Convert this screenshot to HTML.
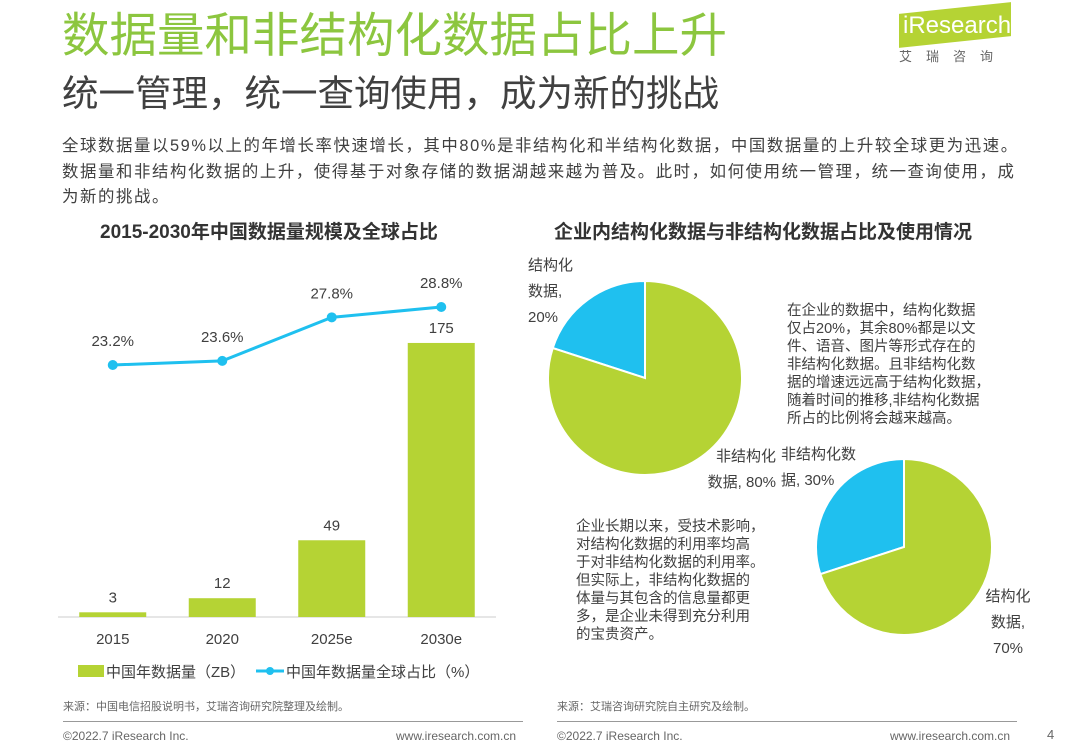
<!DOCTYPE html>
<html><head><meta charset="utf-8">
<style>
html,body{margin:0;padding:0;background:#fff;}
body{width:1080px;height:748px;overflow:hidden;position:relative;font-family:"Liberation Sans","Noto Sans CJK SC",sans-serif;}
.abs{position:absolute;white-space:nowrap;}
</style></head><body>
<div class="abs" style="left:62px;top:7px;font-size:47.5px;color:#8cc63f;line-height:60px;">数据量和非结构化数据占比上升</div>
<div class="abs" style="left:62px;top:71px;font-size:36.5px;color:#404040;line-height:46px;">统一管理，统一查询使用，成为新的挑战</div>
<div class="abs" style="left:895px;top:4px;width:120px;height:56px;">
  <div style="position:absolute;left:4px;top:4px;width:112px;height:34px;background:#b5d334;transform:skewY(-6deg);"></div>
  <div style="position:absolute;left:8px;top:8px;font-size:24px;color:#fff;">iResearch</div>
  <div style="position:absolute;left:4px;top:42px;font-size:13px;color:#666;letter-spacing:14px;">艾瑞咨询</div>
</div>
<div class="abs" style="left:62px;top:134px;font-size:16.4px;color:#404040;line-height:25.5px;letter-spacing:1.6px;">全球数据量以59%以上的年增长率快速增长，其中80%是非结构化和半结构化数据，中国数据量的上升较全球更为迅速。<br>数据量和非结构化数据的上升，使得基于对象存储的数据湖越来越为普及。此时，如何使用统一管理，统一查询使用，成<br>为新的挑战。</div>

<div class="abs" style="left:100px;top:217px;font-size:19px;font-weight:bold;color:#333;">2015-2030年中国数据量规模及全球占比</div>
<div class="abs" style="left:554px;top:217px;font-size:19px;font-weight:bold;color:#333;">企业内结构化数据与非结构化数据占比及使用情况</div>

<svg id="chart" width="1080" height="748" style="position:absolute;left:0;top:0;"></svg>

<div class="abs" style="left:787px;top:302px;font-size:14.5px;color:#404040;line-height:18px;">在企业的数据中，结构化数据<br>仅占20%，其余80%都是以文<br>件、语音、图片等形式存在的<br>非结构化数据。且非结构化数<br>据的增速远远高于结构化数据，<br>随着时间的推移,非结构化数据<br>所占的比例将会越来越高。</div>
<div class="abs" style="left:576px;top:518px;font-size:14.5px;color:#404040;line-height:18px;">企业长期以来，受技术影响，<br>对结构化数据的利用率均高<br>于对非结构化数据的利用率。<br>但实际上，非结构化数据的<br>体量与其包含的信息量都更<br>多，是企业未得到充分利用<br>的宝贵资产。</div>

<div class="abs" style="left:63px;top:698px;font-size:11px;color:#666;">来源：中国电信招股说明书，艾瑞咨询研究院整理及绘制。</div>
<div class="abs" style="left:557px;top:698px;font-size:11px;color:#666;">来源：艾瑞咨询研究院自主研究及绘制。</div>
<div class="abs" style="left:63px;top:721px;width:460px;height:1px;background:#999;"></div>
<div class="abs" style="left:557px;top:721px;width:460px;height:1px;background:#999;"></div>
<div class="abs" style="left:63px;top:729px;font-size:12px;color:#666;">©2022.7 iResearch Inc.</div>
<div class="abs" style="left:396px;top:729px;font-size:12px;color:#666;">www.iresearch.com.cn</div>
<div class="abs" style="left:557px;top:729px;font-size:12px;color:#666;">©2022.7 iResearch Inc.</div>
<div class="abs" style="left:890px;top:729px;font-size:12px;color:#666;">www.iresearch.com.cn</div>
<div class="abs" style="left:1047px;top:727px;font-size:13px;color:#666;">4</div>

<script>
const categories = ["2015","2020","2025e","2030e"];
const volumes = [3, 12, 49, 175];
const shares = [23.2, 23.6, 27.8, 28.8];
const pie1Labels = ["结构化数据", "非结构化数据"];
const pie1Values = [20, 80];
const pie2Labels = ["非结构化数据", "结构化数据"];
const pie2Values = [30, 70];

const NS = "http://www.w3.org/2000/svg";
const svg = document.getElementById("chart");
function mk(tag, attrs, parent) {
  const e = document.createElementNS(NS, tag);
  for (const k in attrs) e.setAttribute(k, attrs[k]);
  (parent || svg).appendChild(e);
  return e;
}
const GREEN = "#b5d334", BLUE = "#1fc0ef";
const baseY = 617, x0 = 58, step = 109.5, barW = 67;
const xC = i => x0 + step * (i + 0.5);
const yBar = v => baseY - v * 1.566;
const yLine = v => 365 - (v - 23.2) * 10.36;

const ax = mk("line", {x1: 58, x2: 496, y1: baseY, y2: baseY, stroke: "#ccc", "stroke-width": 1});



volumes.forEach((v, i) => {
  const r = mk("rect", {x: xC(i) - barW/2, y: yBar(v), width: barW, height: baseY - yBar(v), fill: GREEN});
  
  
  const t = mk("text", {x: xC(i), y: yBar(v) - 10, "text-anchor": "middle", "font-size": 15, fill: "#404040"});
  t.textContent = v;
  
  
  const c = mk("text", {x: xC(i), y: 644, "text-anchor": "middle", "font-size": 15, fill: "#404040"});
  c.textContent = categories[i];
  
  
});

const pts = shares.map((s, i) => xC(i) + "," + yLine(s)).join(" ");
const pl = mk("polyline", {points: pts, fill: "none", stroke: BLUE, "stroke-width": 3});


shares.forEach((s, i) => {
  const d = mk("circle", {cx: xC(i), cy: yLine(s), r: 5, fill: BLUE});
  
  
  const t = mk("text", {x: xC(i), y: yLine(s) - 19, "text-anchor": "middle", "font-size": 15, fill: "#404040"});
  t.textContent = s.toFixed(1) + "%";
  
  
});

const lg1 = mk("rect", {x: 78, y: 665, width: 26, height: 12, fill: GREEN});


const lt1 = mk("text", {x: 106, y: 677, "font-size": 15, fill: "#404040"});
lt1.textContent = "中国年数据量（ZB）";


const lg2 = mk("line", {x1: 256, x2: 284, y1: 671, y2: 671, stroke: BLUE, "stroke-width": 3});


const lg2d = mk("circle", {cx: 270, cy: 671, r: 4, fill: BLUE});


const lt2 = mk("text", {x: 286, y: 677, "font-size": 15, fill: "#404040"});
lt2.textContent = "中国年数据量全球占比（%）";



function pie(cx, cy, r, values, colors, name) {
  const total = values.reduce((a, b) => a + b, 0);
  let start = -Math.PI / 2 - (values[0] / total) * 2 * Math.PI;
  values.forEach((v, i) => {
    const a0 = start, a1 = start + (v / total) * 2 * Math.PI;
    const large = (a1 - a0) > Math.PI ? 1 : 0;
    const d = `M${cx},${cy} L${cx + r*Math.cos(a0)},${cy + r*Math.sin(a0)} A${r},${r} 0 ${large} 1 ${cx + r*Math.cos(a1)},${cy + r*Math.sin(a1)} Z`;
    const p = mk("path", {d: d, fill: colors[i], stroke: "#fff", "stroke-width": 2});
    
    
    start = a1;
  });
}
pie(645, 378, 97, pie1Values, [BLUE, GREEN], 'pie-2020');
pie(904, 547, 88, pie2Values, [BLUE, GREEN], 'pie-usage');

function label(lines, x, y, anchor, name) {
  const t = mk("text", {x: x, y: y, "text-anchor": anchor, "font-size": 15, fill: "#404040"});
  lines.forEach((l, i) => {
    const s = mk("tspan", {x: x, dy: i ? 26 : 0}, t);
    s.textContent = l;
  });
  
  
}
label(["结构化", "数据,", pie1Values[0] + "%"], 528, 270, "start", 'pie1-structured-label');
label(["非结构化", "数据, " + pie1Values[1] + "%"], 776, 461, "end", 'pie1-unstructured-label');
label(["非结构化数", "据, " + pie2Values[0] + "%"], 781, 459, "start", 'pie2-unstructured-label');
label(["结构化", "数据,", pie2Values[1] + "%"], 1008, 601, "middle", 'pie2-structured-label');
</script>
</body></html>
